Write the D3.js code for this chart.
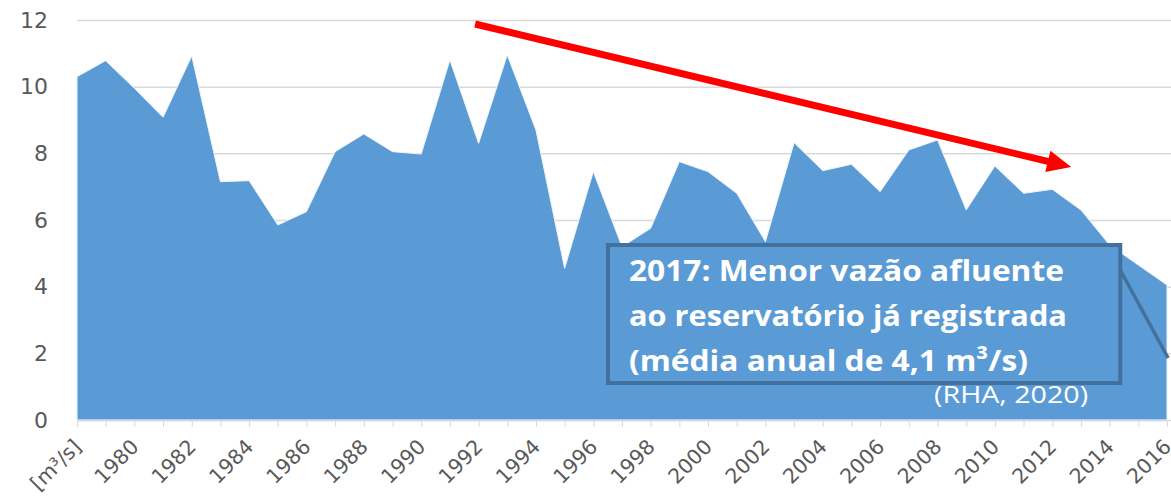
<!DOCTYPE html>
<html>
<head>
<meta charset="utf-8">
<script src="https://cdn.jsdelivr.net/npm/d3@7"></script>
<style>
  body { margin: 0; background: #fff; }
  .grid line { stroke: #d9d9d9; stroke-width: 1.5; }
  .grid .domain { display: none; }
  .axis text { fill: #595959; font-family: "DejaVu Sans", sans-serif; }
</style>
</head>
<body>
<script>
/* ---------------------------------------------------------------
Data: annual mean inflow to the reservoir [m3/s], 1978-2016
----------------------------------------------------------------*/
var years = d3.range(1978, 2017);
var inflow = [10.3, 10.78, 9.95, 9.08, 10.92, 7.15, 7.18, 5.85, 6.25, 8.05,
              8.58, 8.05, 7.98, 10.8, 8.3, 10.95, 8.7, 4.55, 7.45, 5.2,
              5.75, 7.75, 7.45, 6.8, 5.35, 8.32, 7.48, 7.67, 6.85, 8.1,
              8.4, 6.3, 7.62, 6.8, 6.92, 6.3, 5.25, 4.65, 4.05];
var yTicks = [0, 2, 4, 6, 8, 10, 12];
var firstLabel = "[m³/s]";

var noteLines = ["2017: Menor vazão afluente",
                 "ao reservatório já registrada",
                 "(média anual de 4,1 m³/s)"];
var source = "(RHA, 2020)";

var width = 1171, height = 499;
var margin = {top: 20, right: 4, bottom: 79, left: 77};

var svg = d3.select("body").append("svg")
    .attr("width", width)
    .attr("height", height);

var x = d3.scaleLinear()
    .domain([1978, 2016])
    .range([margin.left, width - margin.right]);
var y = d3.scaleLinear()
    .domain([0, 12])
    .range([height - margin.bottom, margin.top]);

// horizontal gridlines
svg.append("g")
    .attr("class", "grid")
    .attr("transform", "translate(" + margin.left + ",0)")
    .call(d3.axisLeft(y).tickValues(yTicks)
        .tickSize(-(width - margin.left))
        .tickFormat(""));

// the area
var area = d3.area()
    .x(function(d, i) { return x(years[i]); })
    .y0(y(0))
    .y1(function(d) { return y(d); });

svg.append("path")
    .datum(inflow)
    .attr("d", area)
    .attr("fill", "#5b9bd5")
    .attr("stroke", "#eef4fa")
    .attr("stroke-width", 1);

// x axis: baseline, small ticks, rotated labels every other year
var xAxis = svg.append("g")
    .attr("class", "axis")
    .attr("transform", "translate(0," + y(0) + ")")
    .call(d3.axisBottom(x).tickValues(years).tickSize(7).tickSizeOuter(0)
        .tickFormat(function(d) {
            if (d === 1978) return firstLabel;
            return (d % 2 === 0) ? d : "";
        }));
xAxis.select(".domain").attr("stroke", "#c9dcef").attr("stroke-width", 1.5);
xAxis.selectAll(".tick line").attr("stroke", "#d9d9d9");
xAxis.selectAll(".tick text")
    .attr("font-size", "20.5px")
    .attr("text-anchor", "end")
    .attr("y", 0)
    .attr("dy", 0)
    .attr("transform", "translate(5,28) rotate(-45)");

// y axis labels only
var yAxis = svg.append("g")
    .attr("class", "axis")
    .attr("transform", "translate(48,0)")
    .call(d3.axisLeft(y).tickValues(yTicks).tickSize(0));
yAxis.select(".domain").remove();
yAxis.selectAll(".tick text").attr("font-size", "22px").attr("x", 0);

// red trend arrow
var a0 = [x(1991.88), y(11.88)], a1 = [x(2012.66), y(7.59)];
var ang = Math.atan2(a1[1] - a0[1], a1[0] - a0[0]);
var headLen = 24, headHalf = 11;
var hb = [a1[0] - headLen * Math.cos(ang), a1[1] - headLen * Math.sin(ang)];
svg.append("line")
    .attr("x1", a0[0]).attr("y1", a0[1])
    .attr("x2", hb[0] + 2 * Math.cos(ang)).attr("y2", hb[1] + 2 * Math.sin(ang))
    .attr("stroke", "#ff0000")
    .attr("stroke-width", 7);
svg.append("path")
    .attr("d", "M" + a1 + "L" + [hb[0] + headHalf * Math.sin(ang), hb[1] - headHalf * Math.cos(ang)] +
               "L" + [hb[0] - headHalf * Math.sin(ang), hb[1] + headHalf * Math.cos(ang)] + "Z")
    .attr("fill", "#ff0000");

// callout box with connector to the last point
var bx0 = x(1996.51), bx1 = x(2014.37), by0 = y(5.25), by1 = y(1.11);
svg.append("line")
    .attr("x1", bx1).attr("y1", y(4.5))
    .attr("x2", x(2016.04)).attr("y2", y(1.86))
    .attr("stroke", "#41719c")
    .attr("stroke-width", 3.5);
svg.append("rect")
    .attr("x", bx0).attr("y", by0)
    .attr("width", bx1 - bx0).attr("height", by1 - by0)
    .attr("fill", "#5b9bd5")
    .attr("stroke", "#41719c")
    .attr("stroke-width", 4);

var lineLens = [435, 438, 399];
svg.selectAll(".note")
    .data(noteLines)
    .enter().append("text")
    .attr("class", "note")
    .attr("x", bx0 + 21)
    .attr("y", function(d, i) { return by0 + 36 + i * 45; })
    .attr("textLength", function(d, i) { return lineLens[i]; })
    .attr("lengthAdjust", "spacingAndGlyphs")
    .attr("fill", "#fff")
    .attr("font-family", "'Open Sans', sans-serif")
    .attr("font-weight", "bold")
    .attr("font-size", "29px")
    .text(function(d) { return d; });

svg.append("text")
    .attr("x", x(2007.88))
    .attr("y", y(0.5))
    .attr("textLength", 154)
    .attr("lengthAdjust", "spacingAndGlyphs")
    .attr("fill", "#fff")
    .attr("font-family", "'Open Sans', sans-serif")
    .attr("font-size", "23px")
    .text(source);
</script>
</body>
</html>
